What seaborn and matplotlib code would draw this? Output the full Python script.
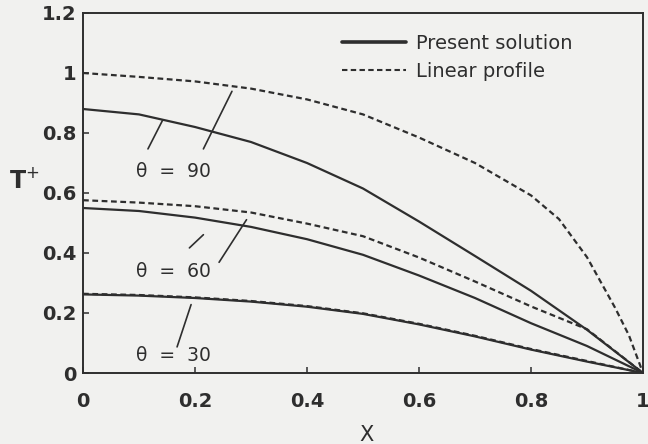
import numpy as np
import pandas as pd
import seaborn as sns
import matplotlib.pyplot as plt
from matplotlib.lines import Line2D
from matplotlib.ticker import FuncFormatter

sns.set_theme(style="ticks")
plt.rcParams["font.family"] = ["DejaVu Sans"]

# values
x_grid = [0.0, 0.1, 0.2, 0.3, 0.4, 0.5, 0.6, 0.7, 0.8, 0.9, 1.0]
x_lin90 = [0.0, 0.1, 0.2, 0.3, 0.4, 0.5, 0.6, 0.7, 0.8, 0.85, 0.9, 0.95, 0.975, 1.0]

t90_present = [0.88, 0.862, 0.82, 0.77, 0.70, 0.615, 0.505, 0.39, 0.274, 0.144, 0.0]
t90_linear = [1.0, 0.987, 0.972, 0.948, 0.912, 0.862, 0.785, 0.70, 0.592, 0.513, 0.386, 0.218, 0.125, 0.0]
t60_present = [0.55, 0.54, 0.518, 0.487, 0.446, 0.394, 0.325, 0.25, 0.166, 0.09, 0.0]
t60_linear = [0.576, 0.568, 0.556, 0.535, 0.498, 0.456, 0.385, 0.305, 0.222, 0.146, 0.0]
t30_present = [0.262, 0.258, 0.25, 0.238, 0.221, 0.197, 0.162, 0.122, 0.078, 0.038, 0.0]
t30_linear = [0.264, 0.26, 0.252, 0.24, 0.223, 0.199, 0.164, 0.124, 0.08, 0.04, 0.0]

y_ticks = [0, 0.2, 0.4, 0.6, 0.8, 1.0, 1.2]
x_ticks = [0, 0.2, 0.4, 0.6, 0.8, 1.0]

labels = ["θ  =  90", "θ  =  60", "θ  =  30"]
label_pos = [(0.095, 0.672), (0.095, 0.337), (0.095, 0.059)]
# short leader strokes pointing from the labels to the curves
leaders = [
    ((0.116, 0.747), (0.142, 0.842)),
    ((0.215, 0.747), (0.266, 0.939)),
    ((0.19, 0.417), (0.215, 0.461)),
    ((0.243, 0.369), (0.292, 0.511)),
    ((0.168, 0.087), (0.193, 0.228)),
]

series = [
    (90, "Present solution", x_grid, t90_present),
    (90, "Linear profile", x_lin90, t90_linear),
    (60, "Present solution", x_grid, t60_present),
    (60, "Linear profile", x_grid, t60_linear),
    (30, "Present solution", x_grid, t30_present),
    (30, "Linear profile", x_grid, t30_linear),
]
rows = []
for theta, prof, xs, ts in series:
    for xv, tv in zip(xs, ts):
        rows.append({"theta": f"{theta}-{prof}", "profile": prof, "X": xv, "T": tv})
df = pd.DataFrame(rows)

bg = "#f1f1ef"
ink = "#2e2e2e"

fig = plt.figure(figsize=(6.48, 4.44), dpi=100, facecolor=bg)
ax = fig.add_axes([83 / 648, 71 / 444, 560 / 648, 360 / 444])
ax.set_facecolor(bg)

sns.lineplot(
    data=df, x="X", y="T", units="theta", style="profile", estimator=None,
    color=ink, linewidth=1.6,
    dashes={"Present solution": "", "Linear profile": (2.6, 1.6)},
    legend=False, ax=ax,
)

for txt, (px, py) in zip(labels, label_pos):
    ax.text(px, py, txt, fontsize=13.5, color=ink, ha="left", va="center")
for (x0, y0), (x1, y1) in leaders:
    ax.annotate("", xy=(x1, y1), xytext=(x0, y0),
                arrowprops=dict(arrowstyle="-", color=ink, lw=1.2, shrinkA=0, shrinkB=0))

handles = [
    Line2D([], [], color=ink, lw=2.6),
    Line2D([], [], color=ink, lw=1.5, dashes=(2.6, 1.6)),
]
ax.legend(handles, ["Present solution", "Linear profile"], loc="upper left",
          bbox_to_anchor=(0.462, 0.943), frameon=False, fontsize=14,
          handlelength=3.3, handletextpad=0.5, borderpad=0, borderaxespad=0,
          labelspacing=0.5, labelcolor=ink)

ax.set_xlim(0, 1)
ax.set_ylim(0, 1.2)
ax.set_xticks(x_ticks)
ax.set_yticks(y_ticks)
fmt = FuncFormatter(lambda v, p: f"{v:g}")
ax.xaxis.set_major_formatter(fmt)
ax.yaxis.set_major_formatter(fmt)
ax.tick_params(direction="in", length=4, width=1.1, color=ink, labelcolor=ink,
               labelsize=14)
ax.tick_params(axis="x", pad=14)
ax.tick_params(axis="y", pad=5)
for lab in ax.get_xticklabels() + ax.get_yticklabels():
    lab.set_fontweight("bold")
for sp in ax.spines.values():
    sp.set_visible(True)
    sp.set_color(ink)
    sp.set_linewidth(1.4)

ax.set_xlabel("X", fontsize=15, color=ink)
ax.xaxis.set_label_coords(0.507, -0.145)
ax.set_ylabel("T$^{+}$", fontsize=17, color=ink, rotation=0, fontweight="bold")
ax.yaxis.set_label_coords(-0.105, 0.50)

fig.savefig("out.png", dpi=100, facecolor=bg)
